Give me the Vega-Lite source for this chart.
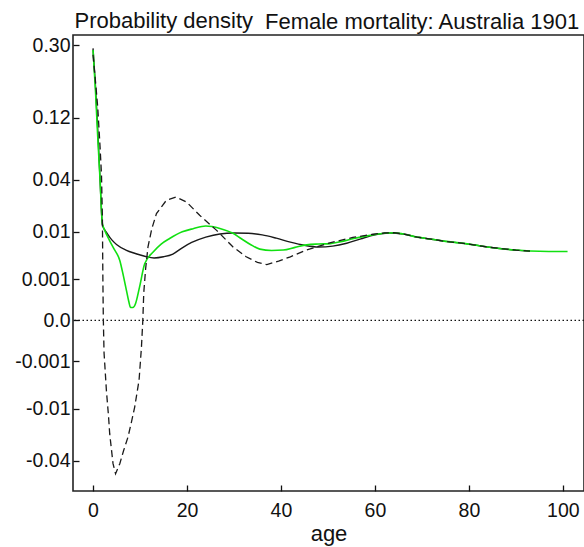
{
  "$schema": "https://vega.github.io/schema/vega-lite/v6.json",
  "autosize": "none",
  "padding": {"left": 73, "top": 35, "right": 0, "bottom": 56},
  "width": 511,
  "height": 456,
  "background": "white",
  "title": {
    "text": "Female mortality: Australia 1901",
    "anchor": "start",
    "frame": "group",
    "dx": 192,
    "dy": 50,
    "offset": 8,
    "baseline": "alphabetic",
    "font": "Liberation Sans",
    "fontSize": 22,
    "fontWeight": "normal",
    "color": "#111111"
  },
  "config": {
    "view": {"stroke": "#222222", "strokeWidth": 1.6},
    "axis": {
      "domain": false,
      "grid": false,
      "tickColor": "#111111",
      "tickWidth": 1.3,
      "tickSize": -6,
      "labelFont": "Liberation Sans",
      "labelFontSize": 19.5,
      "labelColor": "#111111",
      "titleFont": "Liberation Sans",
      "titleFontWeight": "normal",
      "titleColor": "#111111"
    }
  },
  "datasets": {
    "solid": [
      {"age": 0, "value": 0.29}, {"age": 0.5, "value": 0.19}, {"age": 1, "value": 0.1}, {"age": 1.5, "value": 0.04},
      {"age": 2, "value": 0.0125}, {"age": 3, "value": 0.0095}, {"age": 4, "value": 0.0075}, {"age": 5, "value": 0.0063},
      {"age": 7, "value": 0.005}, {"age": 9, "value": 0.0043}, {"age": 11, "value": 0.0038}, {"age": 13, "value": 0.0035},
      {"age": 15, "value": 0.0037}, {"age": 17, "value": 0.0042}, {"age": 19, "value": 0.0055}, {"age": 21, "value": 0.0068},
      {"age": 24, "value": 0.0083}, {"age": 27, "value": 0.0093}, {"age": 30, "value": 0.0096}, {"age": 33, "value": 0.0095},
      {"age": 36, "value": 0.009}, {"age": 39, "value": 0.008}, {"age": 42, "value": 0.0069}, {"age": 45, "value": 0.0061},
      {"age": 48, "value": 0.0057}, {"age": 51, "value": 0.0059}, {"age": 54, "value": 0.0066}, {"age": 57, "value": 0.0078},
      {"age": 60, "value": 0.009}, {"age": 63, "value": 0.0096}, {"age": 66, "value": 0.0093}, {"age": 69, "value": 0.0083},
      {"age": 72, "value": 0.0077}, {"age": 75, "value": 0.0071}, {"age": 78, "value": 0.0067}, {"age": 81, "value": 0.0062},
      {"age": 84, "value": 0.0057}, {"age": 87, "value": 0.0053}, {"age": 90, "value": 0.005}, {"age": 93, "value": 0.0048}
    ],
    "green": [
      {"age": 0, "value": 0.285}, {"age": 0.5, "value": 0.18}, {"age": 1, "value": 0.09}, {"age": 1.5, "value": 0.04},
      {"age": 2, "value": 0.013}, {"age": 2.5, "value": 0.0105}, {"age": 3.5, "value": 0.0074}, {"age": 4.5, "value": 0.0052},
      {"age": 5.7, "value": 0.0031}, {"age": 6.5, "value": 0.0012}, {"age": 7.1, "value": 0.0004}, {"age": 7.6, "value": 0.0001},
      {"age": 8, "value": 0.00003}, {"age": 8.5, "value": 0.00003}, {"age": 9, "value": 0.00006}, {"age": 9.9, "value": 0.00053},
      {"age": 11, "value": 0.0026}, {"age": 12.8, "value": 0.0046}, {"age": 14.5, "value": 0.0064}, {"age": 16.3, "value": 0.0079},
      {"age": 19, "value": 0.01}, {"age": 21.3, "value": 0.0111}, {"age": 24, "value": 0.0121}, {"age": 27, "value": 0.0112},
      {"age": 29.8, "value": 0.0095}, {"age": 31.5, "value": 0.0079}, {"age": 33.5, "value": 0.0063}, {"age": 35.5, "value": 0.0052},
      {"age": 38, "value": 0.0049}, {"age": 40.5, "value": 0.005}, {"age": 43, "value": 0.0056}, {"age": 45.5, "value": 0.0062},
      {"age": 48, "value": 0.0064}, {"age": 50.5, "value": 0.0065}, {"age": 53, "value": 0.0071}, {"age": 55.5, "value": 0.0079},
      {"age": 58, "value": 0.0086}, {"age": 60, "value": 0.0091}, {"age": 62, "value": 0.0095}, {"age": 64, "value": 0.0097},
      {"age": 66, "value": 0.0093}, {"age": 69, "value": 0.0083}, {"age": 72, "value": 0.0077}, {"age": 75, "value": 0.0071},
      {"age": 78, "value": 0.0067}, {"age": 81, "value": 0.0062}, {"age": 84, "value": 0.0057}, {"age": 87, "value": 0.0053},
      {"age": 90, "value": 0.005}, {"age": 93, "value": 0.0048}, {"age": 97, "value": 0.0047}, {"age": 101, "value": 0.0047}
    ],
    "dashed": [
      {"age": 0, "value": 0.27}, {"age": 0.5, "value": 0.2}, {"age": 1, "value": 0.14}, {"age": 1.5, "value": 0.075},
      {"age": 1.8, "value": 0.045}, {"age": 2, "value": 0.015}, {"age": 2.05, "value": 0.005}, {"age": 2.1, "value": 0.001},
      {"age": 2.15, "value": 0.0001}, {"age": 2.2, "value": 0}, {"age": 2.35, "value": -0.0005}, {"age": 2.5, "value": -0.0012},
      {"age": 2.85, "value": -0.005}, {"age": 3.3, "value": -0.0127}, {"age": 3.55, "value": -0.021}, {"age": 4.26, "value": -0.0425},
      {"age": 4.8, "value": -0.052}, {"age": 5.7, "value": -0.0425}, {"age": 6.5, "value": -0.032}, {"age": 7.45, "value": -0.0229},
      {"age": 8.2, "value": -0.015}, {"age": 8.87, "value": -0.0094}, {"age": 9.8, "value": -0.0031}, {"age": 10.3, "value": -0.0003},
      {"age": 10.6, "value": 0}, {"age": 10.8, "value": 0.0003}, {"age": 11.2, "value": 0.002}, {"age": 11.7, "value": 0.0057},
      {"age": 12.5, "value": 0.011}, {"age": 13.5, "value": 0.0175}, {"age": 15.6, "value": 0.0249}, {"age": 17.7, "value": 0.027},
      {"age": 19.9, "value": 0.0239}, {"age": 22.7, "value": 0.0167}, {"age": 26.3, "value": 0.0105}, {"age": 29.8, "value": 0.0057},
      {"age": 32.6, "value": 0.0037}, {"age": 35, "value": 0.0028}, {"age": 37, "value": 0.0025}, {"age": 39.5, "value": 0.003},
      {"age": 42, "value": 0.0037}, {"age": 45.4, "value": 0.005}, {"age": 50.4, "value": 0.0067}, {"age": 55.3, "value": 0.0082},
      {"age": 59.6, "value": 0.0092}, {"age": 62, "value": 0.0096}, {"age": 64, "value": 0.0097}, {"age": 66, "value": 0.0093},
      {"age": 69, "value": 0.0083}, {"age": 72, "value": 0.0077}, {"age": 75, "value": 0.0071}, {"age": 78, "value": 0.0067},
      {"age": 81, "value": 0.0062}, {"age": 84, "value": 0.0057}, {"age": 87, "value": 0.0053}, {"age": 90, "value": 0.005},
      {"age": 93, "value": 0.0048}
    ],
    "zero": [{"value": 0}]
  },
  "encoding": {
    "x": {
      "field": "age",
      "type": "quantitative",
      "scale": {"domain": [-4.26, 104.5], "nice": false, "zero": false},
      "axis": {
        "values": [0, 20, 40, 60, 80, 100],
        "title": "age",
        "titleFontSize": 22,
        "labelPadding": 16,
        "titlePadding": 4
      }
    },
    "y": {
      "field": "value",
      "type": "quantitative",
      "scale": {"type": "pow", "exponent": 0.33333333, "domain": [-0.0717, 0.335], "nice": false, "zero": false},
      "axis": {
        "values": [0.3, 0.12, 0.04, 0.01, 0.001, 0, -0.001, -0.01, -0.04],
        "labelExpr": "datum.value == 0.3 ? '0.30' : datum.value == 0 ? '0.0' : '' + datum.value",
        "labelPadding": 9,
        "title": "Probability density",
        "titleFontSize": 22,
        "titleAngle": 0,
        "titleAlign": "left",
        "titleBaseline": "alphabetic",
        "titleX": 1,
        "titleY": -8
      }
    }
  },
  "layer": [
    {
      "data": {"name": "zero"},
      "mark": {"type": "rule", "color": "#111111", "strokeWidth": 1.3, "strokeDash": [1.5, 2.5]},
      "encoding": {"x": null, "y": {"field": "value", "type": "quantitative"}}
    },
    {
      "data": {"name": "solid"},
      "mark": {"type": "line", "color": "#1a1a1a", "strokeWidth": 1.4, "interpolate": "monotone"}
    },
    {
      "data": {"name": "green"},
      "mark": {"type": "line", "color": "#11e011", "strokeWidth": 1.6, "interpolate": "monotone"}
    },
    {
      "data": {"name": "dashed"},
      "mark": {"type": "line", "color": "#1a1a1a", "strokeWidth": 1.3, "strokeDash": [7, 4], "interpolate": "linear"}
    }
  ]
}
